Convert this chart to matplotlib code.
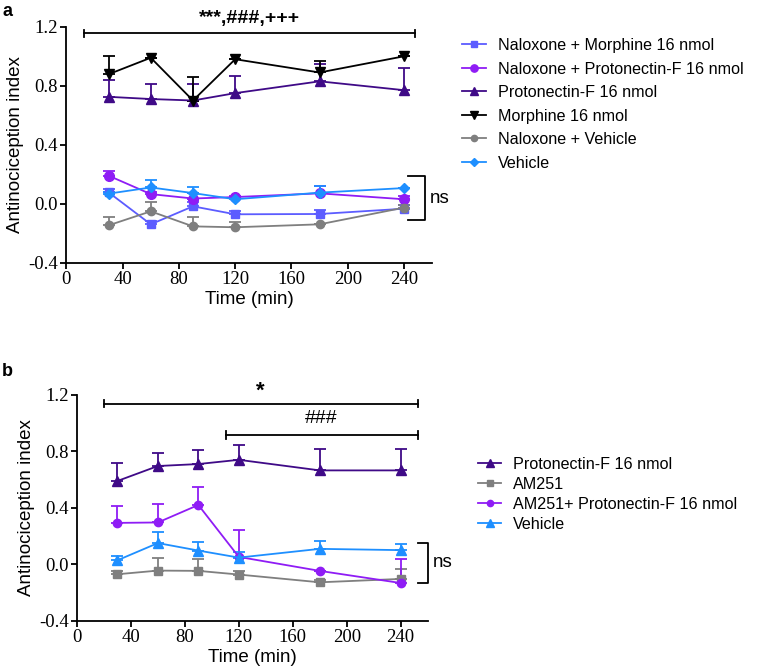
import numpy as np
from matplotlib import pyplot as plt

plt.rcParams['font.family'] = ['Liberation Sans', 'DejaVu Sans']

time = [30, 60, 90, 120, 180, 240]

# panel a: means and upper error bar ends
a_names = ["Naloxone + Morphine 16 nmol", "Naloxone + Protonectin-F 16 nmol",
           "Protonectin-F 16 nmol", "Morphine 16 nmol", "Naloxone + Vehicle", "Vehicle"]
a_nal_morph = [0.077, -0.14, -0.018, -0.072, -0.07, -0.034]
a_nal_morph_top = [0.10, -0.12, 0.01, -0.05, -0.04, -0.01]
a_nal_prot = [0.19, 0.065, 0.035, 0.045, 0.07, 0.03]
a_nal_prot_top = [0.225, 0.08, 0.07, 0.055, 0.12, 0.05]
a_prot = [0.725, 0.71, 0.70, 0.75, 0.83, 0.77]
a_prot_top = [0.84, 0.81, 0.81, 0.865, 0.95, 0.92]
a_morph = [0.878, 0.99, 0.70, 0.98, 0.89, 1.0]
a_morph_top = [1.0, 0.99, 0.86, 0.98, 0.97, 1.0]
a_nal_veh = [-0.147, -0.052, -0.154, -0.16, -0.14, -0.027]
a_nal_veh_top = [-0.09, 0.014, -0.09, -0.125, -0.14, -0.01]
a_veh = [0.068, 0.11, 0.072, 0.03, 0.075, 0.106]
a_veh_top = [0.08, 0.16, 0.11, 0.04, 0.12, 0.106]

# panel b
b_names = ["Protonectin-F 16 nmol", "AM251", "AM251+ Protonectin-F 16 nmol", "Vehicle"]
b_prot = [0.59, 0.696, 0.71, 0.74, 0.665, 0.665]
b_prot_top = [0.717, 0.79, 0.81, 0.845, 0.817, 0.815]
b_am = [-0.071, -0.045, -0.047, -0.073, -0.128, -0.104]
b_am_top = [-0.05, 0.047, 0.035, -0.05, -0.11, -0.035]
b_am_prot = [0.293, 0.296, 0.42, 0.052, -0.047, -0.133]
b_am_prot_top = [0.41, 0.43, 0.547, 0.244, -0.047, 0.035]
b_veh = [0.028, 0.15, 0.097, 0.047, 0.109, 0.10]
b_veh_top = [0.06, 0.227, 0.156, 0.09, 0.168, 0.144]

c_dark = '#3f0a87'
c_violet = '#8f1cf5'
c_blue = '#1e8fff'
c_peri = '#5c5cff'
c_gray = '#7f7f7f'

fig = plt.figure(figsize=(7.59, 6.70), dpi=100)
ax1 = fig.add_axes([0.0874, 0.608, 0.482, 0.352])
ax2 = fig.add_axes([0.1014, 0.0736, 0.462, 0.337])


def series(ax, y, top, color, marker, label, ms=6):
    y = np.array(y)
    up = np.clip(np.array(top) - y, 0, None)
    eb = ax.errorbar(time, y, yerr=[np.zeros_like(up), up], color=color, marker=marker,
                     markersize=ms, lw=1.3, capsize=4, capthick=1.3, elinewidth=1.3)
    line = eb.lines[0]
    line.set_label(label)
    return line


def style(ax):
    ax.set_xlim(0, 260)
    ax.set_ylim(-0.4, 1.2)
    ax.set_xticks([0, 40, 80, 120, 160, 200, 240])
    ax.set_yticks([-0.4, 0.0, 0.4, 0.8, 1.2])
    ax.set_yticklabels(['-0.4', '0.0', '0.4', '0.8', '1.2'])
    for s in ['top', 'right']:
        ax.spines[s].set_visible(False)
    for s in ['left', 'bottom']:
        ax.spines[s].set_linewidth(1.3)
    ax.tick_params(width=1.3, length=4, pad=2)
    for t in ax.get_xticklabels() + ax.get_yticklabels():
        t.set_family('Liberation Serif')
        t.set_fontsize(13.5)
    ax.set_xlabel("Time (min)", fontsize=13.5, labelpad=2)
    ax.set_ylabel("Antinociception index", fontsize=13.5, labelpad=3)


def hbar(ax, x0, x1, y):
    ax.plot([x0, x1], [y, y], color='black', lw=1.3, clip_on=False)
    for x in (x0, x1):
        ax.plot([x, x], [y - 0.025, y + 0.025], color='black', lw=1.3, clip_on=False)


def ns_bracket(ax, x0, x1, y0, y1, tx):
    ax.plot([x0, x1, x1, x0], [y1, y1, y0, y0], color='black', lw=1.3, clip_on=False)
    ax.text(tx, (y0 + y1) / 2, "ns", fontsize=13.5, va='center', ha='left', clip_on=False)


# panel a
h1 = [
    series(ax1, a_nal_morph, a_nal_morph_top, c_peri, 's', a_names[0]),
    series(ax1, a_nal_prot, a_nal_prot_top, c_violet, 'o', a_names[1], ms=7),
    series(ax1, a_prot, a_prot_top, c_dark, '^', a_names[2], ms=7),
    series(ax1, a_morph, a_morph_top, 'black', 'v', a_names[3], ms=7),
    series(ax1, a_nal_veh, a_nal_veh_top, c_gray, 'o', a_names[4]),
    series(ax1, a_veh, a_veh_top, c_blue, 'D', a_names[5], ms=5),
]
style(ax1)
hbar(ax1, 12.4, 248, 1.155)
ax1.text(130, 1.255, "***,###,+++", fontsize=14, fontweight='bold', ha='center', va='center')
ns_bracket(ax1, 243, 254.6, -0.113, 0.186, 258)
ax1.legend(handles=h1, loc='upper left', bbox_to_anchor=(1.065, 0.98), frameon=False,
           fontsize=11.6, handlelength=1.45, handletextpad=0.75, labelspacing=0.53,
           borderaxespad=0, markerscale=0.75)

# panel b
h2 = [
    series(ax2, b_prot, b_prot_top, c_dark, '^', b_names[0], ms=7),
    series(ax2, b_am, b_am_top, c_gray, 's', b_names[1]),
    series(ax2, b_am_prot, b_am_prot_top, c_violet, 'o', b_names[2]),
    series(ax2, b_veh, b_veh_top, c_blue, '^', b_names[3], ms=7),
]
style(ax2)
hbar(ax2, 19.75, 252.8, 1.136)
ax2.text(136, 1.225, "*", fontsize=16, fontweight='bold', ha='center', va='center')
hbar(ax2, 110.6, 252.8, 0.916)
ax2.text(181, 1.03, "###", fontsize=14, ha='center', va='center')
ns_bracket(ax2, 252.8, 260.2, -0.133, 0.154, 264)
ax2.legend(handles=h2, loc='upper left', bbox_to_anchor=(1.125, 0.755), frameon=False,
           fontsize=11.6, handlelength=1.45, handletextpad=0.75, labelspacing=0.32,
           borderaxespad=0, markerscale=0.75)

fig.text(0.003, 0.995, "a", fontsize=13, fontweight='bold', va='top')
fig.text(0.003, 0.458, "b", fontsize=13, fontweight='bold', va='top')

fig.savefig("out.png", dpi=100)
